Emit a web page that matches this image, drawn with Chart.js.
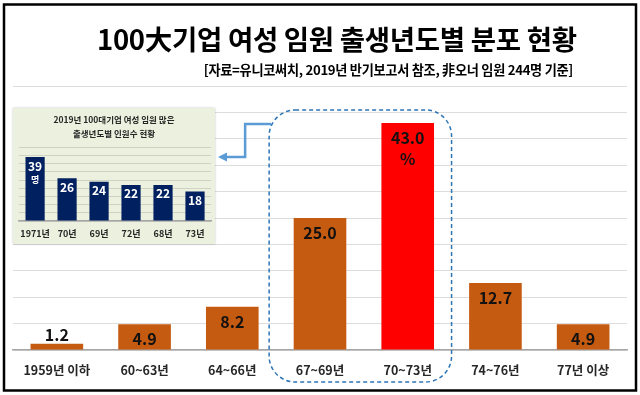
<!DOCTYPE html>
<html>
<head>
<meta charset="utf-8">
<script src="https://cdn.jsdelivr.net/npm/chart.js@4.4.1/dist/chart.umd.min.js"></script>
<style>
  html, body { margin: 0; padding: 0; background: #fff; }
  #wrap { position: relative; width: 640px; height: 395px; overflow: hidden; }
  #main { position: absolute; left: 0; top: 0; }
  #inset { position: absolute; left: 13px; top: 108px; background: #EBF1DE; box-shadow: 0 0 2px rgba(0,0,0,0.25); }
  .txt { position: absolute; font-family: 'Noto Sans CJK KR', 'Noto Sans', sans-serif; font-weight: bold; color: #000; white-space: nowrap; }
  #title { left: 97px; top: 18px; font-size: 27.5px; letter-spacing: -0.3px; }
  #sub { right: 67px; top: 60px; font-size: 13.2px; letter-spacing: -0.3px; }
</style>
</head>
<body>
<div id="wrap">
  <canvas id="main" width="640" height="395"></canvas>
  <canvas id="inset" width="202" height="136"></canvas>
  <div class="txt" id="title">100大기업 여성 임원 출생년도별 분포 현황</div>
  <div class="txt" id="sub">[자료=유니코써치, 2019년 반기보고서 참조, 非오너 임원 244명 기준]</div>
</div>
<script>
// 데이터 (출생년도별 분포, %)
const categories = ["1959년 이하", "60~63년", "64~66년", "67~69년", "70~73년", "74~76년", "77년 이상"];
const shares = [1.2, 4.9, 8.2, 25.0, 43.0, 12.7, 4.9];
const yMax = 50;
const yStep = 5;

// 작은 그래프 (인원수)
const insetYears = ["1971년", "70년", "69년", "72년", "68년", "73년"];
const insetCounts = [39, 26, 24, 22, 22, 18];
const insetTitle = ["2019년 100대기업 여성 임원 많은", "출생년도별 인원수 현황"];
const insetMax = 45;

const FONT = "'Noto Sans CJK KR', 'Noto Sans', sans-serif";
const HIGHLIGHT = 4;

// 막대 위 숫자
const mainLabels = {
  id: 'mainLabels',
  afterDatasetsDraw(chart) {
    const ctx = chart.ctx;
    const meta = chart.getDatasetMeta(0);
    ctx.save();
    ctx.font = "bold 16px " + FONT;
    ctx.fillStyle = '#111';
    ctx.textAlign = 'center';
    ctx.textBaseline = 'middle';
    meta.data.forEach((bar, i) => {
      const h = bar.base - bar.y;
      let y = h < 15 ? bar.y - 9 : bar.y + 15;
      ctx.fillText(shares[i].toFixed(1), bar.x, y);
      if (i === HIGHLIGHT) ctx.fillText('%', bar.x, y + 21);
    });
    ctx.restore();
  },
  afterDraw(chart) {
    const ctx = chart.ctx;
    const xs = chart.scales.x;
    const area = chart.chartArea;
    const step = xs.getPixelForValue(1) - xs.getPixelForValue(0);
    // 점선 박스
    const left = xs.getPixelForValue(3) - step * 0.58;
    const right = xs.getPixelForValue(4) + step * 0.5;
    const top = area.top + 24;
    const bottom = area.bottom + 32;
    ctx.save();
    ctx.strokeStyle = '#2E75B6';
    ctx.lineWidth = 1.5;
    ctx.setLineDash([4, 3]);
    ctx.beginPath();
    ctx.roundRect(left, top, right - left, bottom - top, 26);
    ctx.stroke();
    ctx.setLineDash([]);
    // 화살표
    ctx.strokeStyle = '#5B9BD5';
    ctx.fillStyle = '#5B9BD5';
    ctx.lineWidth = 2.5;
    const ay1 = top + 14, ay2 = top + 47, ax = left - 24, tip = 218;
    ctx.beginPath();
    ctx.moveTo(left + 2, ay1);
    ctx.lineTo(ax, ay1);
    ctx.lineTo(ax, ay2);
    ctx.lineTo(tip + 7, ay2);
    ctx.stroke();
    ctx.beginPath();
    ctx.moveTo(tip, ay2);
    ctx.lineTo(tip + 9, ay2 - 4.5);
    ctx.lineTo(tip + 9, ay2 + 4.5);
    ctx.closePath();
    ctx.fill();
    // 외곽 테두리
    ctx.strokeStyle = '#000';
    ctx.lineWidth = 2.5;
    ctx.strokeRect(4, 4.5, 632, 386);
    ctx.restore();
  }
};

new Chart(document.getElementById('main'), {
  type: 'bar',
  data: {
    labels: categories,
    datasets: [{
      data: shares,
      backgroundColor: ctx => ctx.dataIndex === HIGHLIGHT ? '#FF0000' : '#C55A11',
      categoryPercentage: 1,
      barPercentage: 0.6
    }]
  },
  options: {
    responsive: false,
    animation: false,
    layout: { padding: { left: 13, right: 13, top: 86, bottom: 0 } },
    plugins: { legend: { display: false }, tooltip: { enabled: false } },
    scales: {
      x: {
        grid: { display: false, drawTicks: false },
        border: { color: '#A6A6A6', width: 1.5 },
        ticks: { color: '#262626', padding: 13, font: { family: FONT, weight: 'bold', size: 12.5 } },
        afterFit: s => { s.height = 45; }
      },
      y: {
        min: 0, max: yMax,
        ticks: { display: false, stepSize: yStep },
        grid: { color: '#DDDDDD', drawTicks: false },
        border: { display: false },
        afterFit: s => { s.width = 0; }
      }
    }
  },
  plugins: [mainLabels]
});

const insetLabels = {
  id: 'insetLabels',
  afterDatasetsDraw(chart) {
    const ctx = chart.ctx;
    const meta = chart.getDatasetMeta(0);
    ctx.save();
    ctx.fillStyle = '#fff';
    ctx.textAlign = 'center';
    ctx.textBaseline = 'middle';
    meta.data.forEach((bar, i) => {
      ctx.font = "bold 12px " + FONT;
      ctx.fillText(String(insetCounts[i]), bar.x, bar.y + 9);
      if (i === 0) {
        ctx.font = "bold 9px " + FONT;
        ctx.fillText('명', bar.x, bar.y + 23);
      }
    });
    ctx.restore();
  }
};

new Chart(document.getElementById('inset'), {
  type: 'bar',
  data: {
    labels: insetYears,
    datasets: [{
      data: insetCounts,
      backgroundColor: '#002060',
      categoryPercentage: 1,
      barPercentage: 0.6
    }]
  },
  options: {
    responsive: false,
    animation: false,
    layout: { padding: { left: 4, right: 4, top: 0, bottom: 0 } },
    plugins: {
      legend: { display: false },
      tooltip: { enabled: false },
      title: {
        display: true,
        text: insetTitle,
        color: '#262626',
        font: { family: FONT, weight: 'bold', size: 8.5, lineHeight: 1.6 },
        padding: { top: 5, bottom: 7 }
      }
    },
    scales: {
      x: {
        grid: { display: false, drawTicks: false },
        border: { color: '#A6A6A6', width: 1.5 },
        ticks: {
          color: '#262626', padding: 7, autoSkip: false, maxRotation: 0, minRotation: 0,
          font: { family: FONT, weight: 'bold', size: 9 }
        },
        afterFit: s => { s.height = 23; }
      },
      y: {
        min: 0, max: insetMax,
        ticks: { display: false, stepSize: 5 },
        grid: { color: 'rgba(0,0,0,0.12)', drawTicks: false },
        border: { display: false },
        afterFit: s => { s.width = 0; }
      }
    }
  },
  plugins: [insetLabels]
});
</script>
</body>
</html>
